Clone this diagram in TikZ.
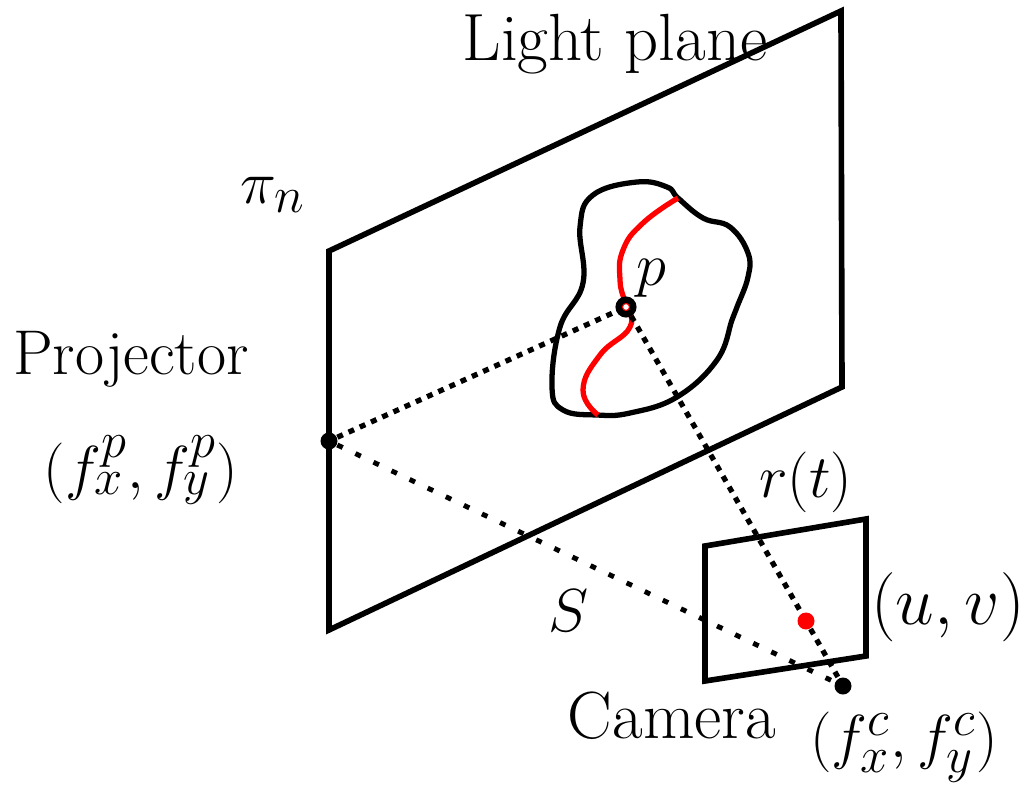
\documentclass[tikz,border=0pt]{standalone}
\tikzset{
  frame/.style={line width=1.6pt,black},
  outline/.style={line width=1.5pt,black,line join=round},
  stripe/.style={line width=1.5pt,red},
  ray/.style={line width=1.5pt,black,dash pattern=on 1.7pt off 1.8pt},
  longray/.style={line width=1.4pt,black,dash pattern=on 1.7pt off 4pt},
  dotnode/.style={circle,fill=black,inner sep=0pt,minimum size=0.17cm},
  lbl/.style={inner sep=0pt,font=\fontsize{19}{21}\selectfont}
}
\begin{document}
\begin{tikzpicture}
  \useasboundingbox (0,0) rectangle (10.24,-8.08);
  % planes
  \draw[frame] (3.29,-2.51)--(8.41,-0.11)--(8.42,-3.87)--(3.29,-6.30)--cycle;
  \draw[frame] (7.05,-5.46)--(8.66,-5.19)--(8.66,-6.56)--(7.05,-6.81)--cycle;
  % object on the light plane
  \draw[outline] plot[smooth cycle,tension=0.7] coordinates {
    (6.78,-1.98) (7.03,-2.18) (7.30,-2.27) (7.48,-2.53) (7.48,-2.77) (7.37,-3.07)
    (7.32,-3.20) (7.17,-3.60) (6.77,-3.97) (6.30,-4.13) (5.97,-4.15) (5.63,-4.10)
    (5.52,-3.87) (5.60,-3.27) (5.83,-2.83) (5.80,-2.27) (5.93,-1.95) (6.37,-1.82) (6.67,-1.87)};
  \draw[stripe] plot[smooth,tension=0.8] coordinates {
    (6.78,-1.98) (6.43,-2.23) (6.23,-2.50) (6.20,-2.80) (6.25,-3.03) (6.30,-3.27)
    (6.00,-3.55) (5.83,-3.90) (5.98,-4.15)};
  % points
  \node[dotnode] (proj) at (3.29,-4.41) {};
  \node[dotnode] (cam) at (8.43,-6.86) {};
  \node[circle,draw=black,line width=2pt,fill=white,inner sep=0pt,minimum size=0.14cm] (pt) at (6.26,-3.07) {};
  \node[circle,draw=red,line width=0.3pt,inner sep=0pt,minimum size=0.07cm] (ptin) at (pt) {};
  \node[circle,fill=red,inner sep=0pt,minimum size=0.17cm] (uv) at (8.06,-6.21) {};
  % rays
  \draw[ray] (proj) -- (pt);
  \draw[ray] (pt) -- (uv);
  \draw[ray] (uv) -- (cam);
  \draw[longray] (proj) -- (cam);
  % labels
  \node[lbl] (light) at (6.15,-0.44) {Light plane};
  \node[lbl] (pin) at (2.73,-1.95) {$\pi_n$};
  \node[lbl] (plabel) at (6.51,-2.78) {$p$};
  \node[lbl,font=\fontsize{18}{20}\selectfont] (projector) at (1.31,-3.59) {Projector};
  \node[lbl] (fp) at (1.41,-4.70) {$(f_x^p,f_y^p)$};
  \node[lbl] (rt) at (8.06,-4.82) {$r(t)$};
  \node[lbl] (s) at (5.69,-6.11) {$S$};
  \node[lbl,font=\fontsize{20}{22}\selectfont,scale=0.95,transform shape] (uvlabel) at (9.48,-6.07) {$(u,v)$};
  \node[lbl] (camera) at (6.72,-7.16) {Camera};
  \node[lbl] (fc) at (9.04,-7.47) {$(f_x^c,f_y^c)$};
\end{tikzpicture}
\end{document}
